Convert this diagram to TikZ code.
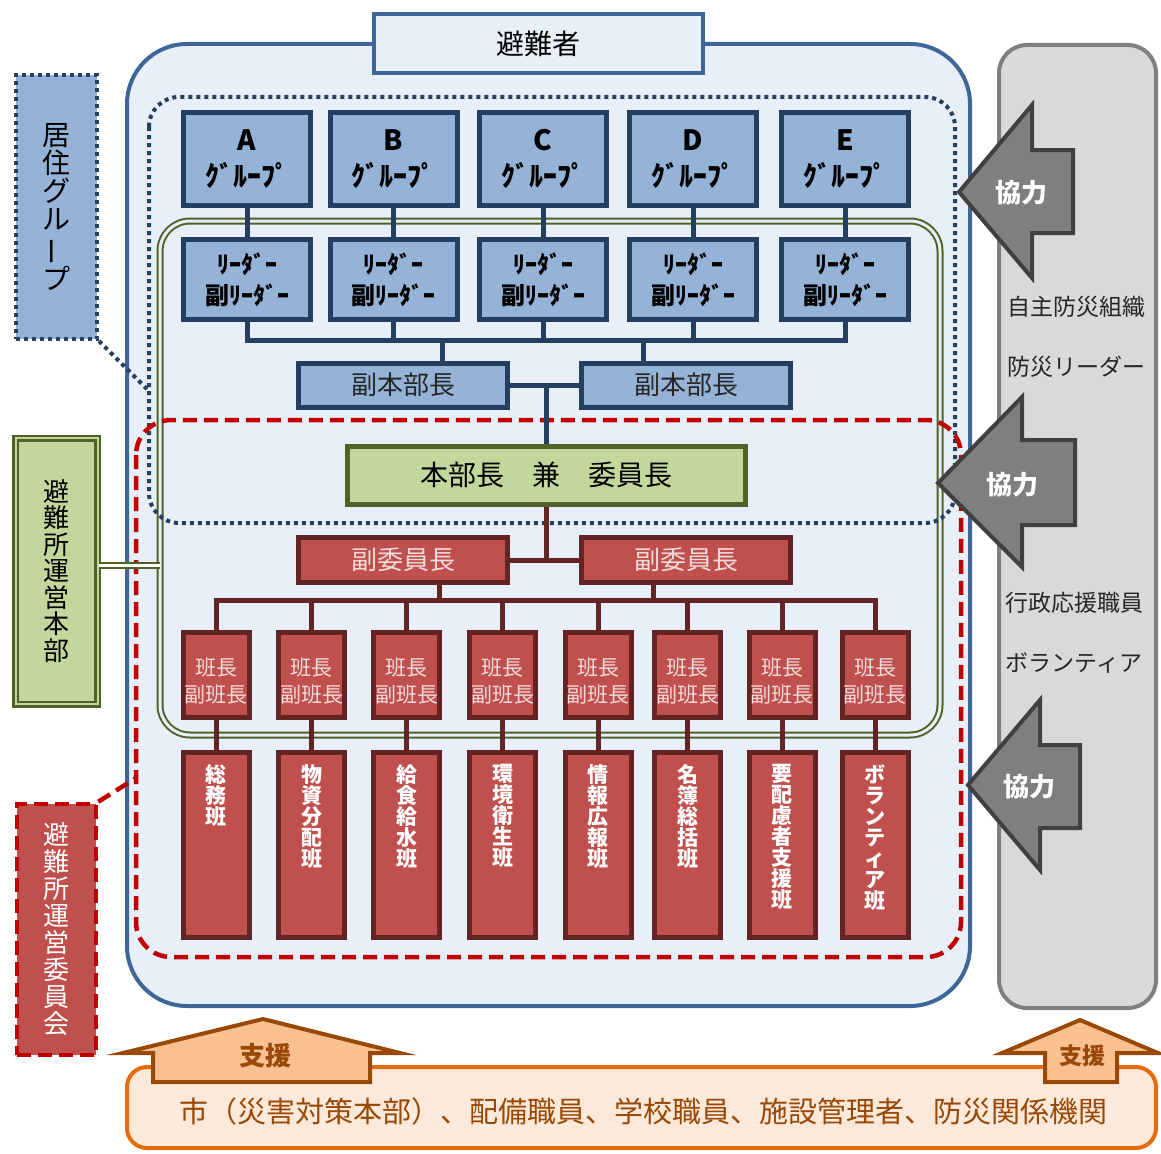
\documentclass[tikz,border=0pt]{standalone}
\usepackage{fontspec}
\setmainfont{Noto Sans CJK JP}
\usepackage{graphicx}
\usetikzlibrary{calc}
\definecolor{navy}{HTML}{243F60}
\definecolor{outerblue}{HTML}{3E6699}
\definecolor{bgfill}{HTML}{E9EFF8}
\definecolor{grpfill}{HTML}{95B3D7}
\definecolor{grnfill}{HTML}{C3D69B}
\definecolor{grnline}{HTML}{4F6228}
\definecolor{redfill}{HTML}{C0504D}
\definecolor{redline}{HTML}{632523}
\definecolor{reddash}{HTML}{C00000}
\definecolor{palered}{HTML}{F2DCDB}
\definecolor{grayfill}{HTML}{D9D9D9}
\definecolor{grayline}{HTML}{808080}
\definecolor{arrfill}{HTML}{7F7F7F}
\definecolor{arrline}{HTML}{404040}
\definecolor{orgfill}{HTML}{FDE9D9}
\definecolor{orgline}{HTML}{E46C0A}
\definecolor{supfill}{HTML}{FAC090}
\definecolor{brown}{HTML}{984807}
\begin{document}
\begin{tikzpicture}[x=1pt,y=-1pt,
  grp/.style={draw=navy, fill=grpfill, line width=5pt, minimum width=127pt, minimum height=93pt, inner sep=0pt, align=center, font=\bfseries\fontsize{28}{36}\selectfont},
  ldr/.style={draw=navy, fill=grpfill, line width=5pt, minimum width=127pt, minimum height=80pt, inner sep=0pt, align=center, font=\bfseries\fontsize{24}{31}\selectfont},
  fhb/.style={draw=navy, fill=grpfill, line width=5pt, minimum width=209pt, minimum height=44pt, inner sep=0pt, font=\fontsize{26}{30}\selectfont, text=black!85},
  fiin/.style={draw=redline, fill=redfill, line width=5pt, minimum width=209pt, minimum height=45pt, inner sep=0pt, font=\fontsize{26}{30}\selectfont, text=palered},
  hancho/.style={draw=redline, fill=redfill, line width=5pt, minimum width=66pt, minimum height=85pt, inner sep=0pt},
  hctxt/.style={inner sep=0pt, align=center, font=\fontsize{21}{27}\selectfont, text=palered, yshift=-6pt},
  han/.style={draw=redline, fill=redfill, line width=5pt, minimum width=66pt, minimum height=185pt, inner sep=0pt},
  hantxt/.style={anchor=north, inner sep=0pt, align=center, text=white, font=\bfseries\fontsize{21}{21}\selectfont},
  bconn/.style={draw=navy, line width=5pt},
  rconn/.style={draw=redline, line width=5pt},
  kyo/.style={draw=arrline, fill=arrfill, line width=4pt, line join=miter},
  kyotxt/.style={text=white, font=\bfseries\fontsize{26}{28}\selectfont, inner sep=0pt},
  shien/.style={draw=brown, fill=supfill, line width=4pt, line join=miter},
  side/.style={text=black!85, font=\fontsize{23}{25}\selectfont, inner sep=0pt},
  dotline/.style={draw=navy, line width=4pt, dash pattern=on 4pt off 4pt},
  redd/.style={draw=reddash, line width=4.5pt, dash pattern=on 14pt off 7pt}
]
\useasboundingbox (0,0) rectangle (1161,1153);

% bottom support box
\draw[draw=orgline, fill=orgfill, line width=4pt, rounded corners=20pt] (127,1067) rectangle (1156,1148);
\node[text=brown, font=\fontsize{29}{31}\selectfont, inner sep=0pt] (city) at (643,1111) {市（災害対策本部）、配備職員、学校職員、施設管理者、防災関係機関};

% right gray box
\draw[draw=grayline, fill=grayfill, line width=4pt, rounded corners=28pt] (999,45) rectangle (1156,1008);
\node[side] (s1) at (1076,307) {自主防災組織};
\node[side] (s2) at (1076,367) {防災リーダー};
\node[side] (s3) at (1074,603) {行政応援職員};
\node[side] (s4) at (1074,663) {ボランティア};

% outer evacuees box
\draw[draw=outerblue, fill=bgfill, line width=4pt, rounded corners=60pt] (127,44) rectangle (970,1006);

% green double frame (shelter HQ)
\draw[draw=grnline, line width=2pt, double=bgfill, double distance=3pt, rounded corners=30pt] (160,221) rectangle (940,735);

% dotted residence frame
\draw[dotline, rounded corners=30pt] (149,97) rectangle (955,523);
% red dashed committee frame
\draw[redd, rounded corners=35pt] (136,420) rectangle (961,957);

% top label box
\node[draw=outerblue, fill=bgfill, line width=4pt, minimum width=329pt, minimum height=59pt, inner sep=0pt, font=\fontsize{28}{30}\selectfont] (hinan) at (538.5,43.5) {避難者};

% groups
\node[grp] (gA) at (247,159) {A\\ｸﾞﾙｰﾌﾟ};
\node[grp] (gB) at (393.5,159) {B\\ｸﾞﾙｰﾌﾟ};
\node[grp] (gC) at (543,159) {C\\ｸﾞﾙｰﾌﾟ};
\node[grp] (gD) at (693,159) {D\\ｸﾞﾙｰﾌﾟ};
\node[grp] (gE) at (845,159) {E\\ｸﾞﾙｰﾌﾟ};

% leaders
\node[ldr] (lA) at (247,279.5) {ﾘｰﾀﾞｰ\\副ﾘｰﾀﾞｰ};
\node[ldr] (lB) at (393.5,279.5) {ﾘｰﾀﾞｰ\\副ﾘｰﾀﾞｰ};
\node[ldr] (lC) at (543,279.5) {ﾘｰﾀﾞｰ\\副ﾘｰﾀﾞｰ};
\node[ldr] (lD) at (693,279.5) {ﾘｰﾀﾞｰ\\副ﾘｰﾀﾞｰ};
\node[ldr] (lE) at (845,279.5) {ﾘｰﾀﾞｰ\\副ﾘｰﾀﾞｰ};

\foreach \g in {A,B,C,D,E}{
  \draw[bconn] (g\g.south) -- (l\g.north);
}

% vice HQ chiefs
\node[fhb] (fL) at (403,385) {副本部長};
\node[fhb] (fR) at (686,385) {副本部長};

% HQ chief
\node[draw=grnline, fill=grnfill, line width=5pt, minimum width=398pt, minimum height=58pt, inner sep=0pt, font=\fontsize{28}{30}\selectfont] (hq) at (546.5,475) {本部長　兼　委員長};

% vice chairs
\node[fiin] (vL) at (403,560) {副委員長};
\node[fiin] (vR) at (686,560) {副委員長};

% leader bus
\coordinate (hb) at (0,340);
\draw[bconn, line cap=rect] (lA.south) -- (lA.south |- hb) -- (lE.south |- hb) -- (lE.south);
\foreach \g in {B,C,D}{
  \draw[bconn] (l\g.south) -- (l\g.south |- hb);
}
\draw[bconn] ([xshift=39pt]fL.north) -- ([xshift=39pt]fL.north |- hb);
\draw[bconn] ([xshift=-43pt]fR.north) -- ([xshift=-43pt]fR.north |- hb);
\draw[bconn] (fL.east) -- (fR.west);
\draw[bconn] (hq.north) -- (hq.north |- fL.east);

\draw[rconn] (hq.south) -- (hq.south |- vL.east);
\draw[rconn] (vL.east) -- (vR.west);

% team leaders
\foreach \i/\x in {1/216,2/311.5,3/406.5,4/502.5,5/598,6/687.5,7/782,8/875}{
  \node[hancho, label={[hctxt]center:班長\\副班長}] (h\i) at (\x,675) {};
}

\coordinate (hr) at (0,600);
\draw[rconn, line cap=rect] (h1.north) -- (h1.north |- hr) -- (h8.north |- hr) -- (h8.north);
\foreach \i in {2,...,7}{
  \draw[rconn] (h\i.north) -- (h\i.north |- hr);
}
\draw[rconn] ([xshift=36pt]vL.south) -- ([xshift=36pt]vL.south |- hr);
\draw[rconn] ([xshift=-33pt]vR.south) -- ([xshift=-33pt]vR.south |- hr);

% teams
\foreach \i/\x in {1/216,2/311.5,3/406.5,4/502.5,5/598,6/687.5,7/782,8/875}{
  \node[han] (t\i) at (\x,845) {};
  \draw[rconn] (h\i.south) -- (t\i.north);
}
\node[hantxt] (n1) at (216,764) {総\\務\\班};
\node[hantxt] (n2) at (311.5,764) {物\\資\\分\\配\\班};
\node[hantxt] (n3) at (406.5,764) {給\\食\\給\\水\\班};
\node[hantxt] (n4) at (502.5,764) {環\\境\\衛\\生\\班};
\node[hantxt] (n5) at (598,764) {情\\報\\広\\報\\班};
\node[hantxt] (n6) at (687.5,764) {名\\簿\\総\\括\\班};
\node[hantxt] (n7) at (782,764) {要\\配\\慮\\者\\支\\援\\班};
\node[hantxt] (n8) at (875,764) {ボ\\ラ\\ン\\テ\\ィ\\ア\\班};

% left: residence group
\node[dotline, fill=grpfill, minimum width=81pt, minimum height=264pt, inner sep=0pt, align=center, text=black, font=\fontsize{28}{28}\selectfont] (res) at (56.5,207) {居\\住\\グ\\ル\\\rotatebox[origin=c]{90}{ー}\\プ};
\coordinate (resend) at (148,390);
\draw[dotline] (res.south east) -- (resend);

% left: shelter HQ
\node[draw=grnline, line width=2.5pt, double=grnfill, double distance=2pt, fill=grnfill, minimum width=82pt, minimum height=266pt, inner sep=0pt, align=center, text=black, font=\fontsize{26}{26.5}\selectfont] (hqs) at (56.5,571) {避\\難\\所\\運\\営\\本\\部};
\coordinate (hqsend) at (160,565);
\draw[draw=grnline, line width=2pt, double=white, double distance=3pt] (hqs.east |- hqsend) -- (hqsend);

% left: committee
\node[redd, fill=redfill, minimum width=79pt, minimum height=251pt, inner sep=0pt, align=center, text=white, font=\fontsize{26}{27}\selectfont] (com) at (56.5,929.5) {避\\難\\所\\運\\営\\委\\員\\会};
\coordinate (comend) at (136,778);
\draw[redd] (com.north east) -- (comend);

% cooperation arrows
\draw[kyo] (959,192) -- (1032,105) -- (1032,150) -- (1073,150) -- (1073,233) -- (1032,233) -- (1032,278) -- cycle;
\node[kyotxt] (k1) at (1021,193) {協力};
\draw[kyo] (938,483) -- (1022,397) -- (1022,440) -- (1075,440) -- (1075,525) -- (1022,525) -- (1022,567) -- cycle;
\node[kyotxt] (k2) at (1012,485) {協力};
\draw[kyo] (968,785) -- (1040,700) -- (1040,745) -- (1080,745) -- (1080,828) -- (1040,828) -- (1040,870) -- cycle;
\node[kyotxt] (k3) at (1029,787) {協力};

% support arrows
\draw[shien] (153,1082) -- (153,1053) -- (123,1053) -- (263,1019) -- (400,1053) -- (370,1053) -- (370,1082) -- cycle;
\node[text=brown, font=\bfseries\fontsize{26}{28}\selectfont, inner sep=0pt] (sp1) at (265,1056) {支援};
\draw[shien] (1045,1082) -- (1045,1053) -- (1002,1053) -- (1080,1020) -- (1158,1053) -- (1117,1053) -- (1117,1082) -- cycle;
\node[text=brown, font=\bfseries\fontsize{23}{25}\selectfont, inner sep=0pt] (sp2) at (1082,1056) {支援};
\end{tikzpicture}
\end{document}
